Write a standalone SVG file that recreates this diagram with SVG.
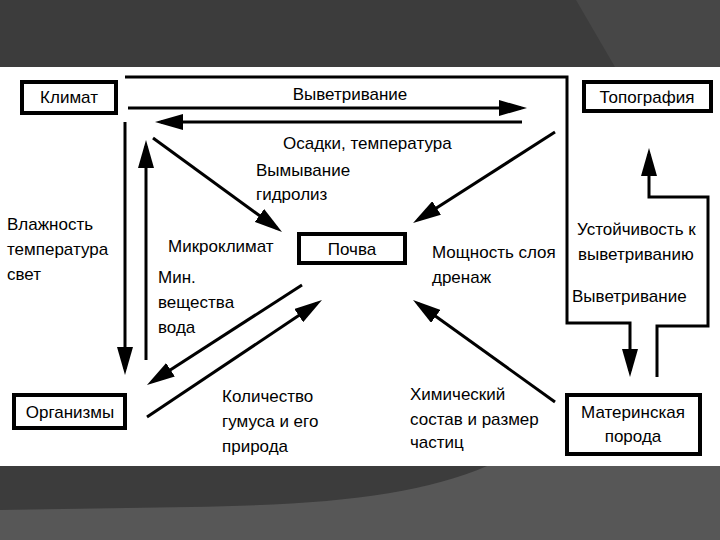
<svg xmlns="http://www.w3.org/2000/svg" width="720" height="540" viewBox="0 0 720 540">
<style>
.t{font-family:"Liberation Sans",Arial,sans-serif;font-size:17px;fill:#000}
.c{text-anchor:middle}
.box{fill:#fff;stroke:#000;stroke-width:4}
.ln{fill:none;stroke:#000;stroke-width:3;stroke-linejoin:miter}
.ar{fill:none;stroke:#000;stroke-width:3;marker-end:url(#ah)}
</style>
<defs>
<marker id="ah" viewBox="0 0 28 16" refX="22" refY="8" markerWidth="28" markerHeight="16" markerUnits="userSpaceOnUse" orient="auto">
<path d="M0,0 L28,8 L0,16 Z" fill="#000"/>
</marker>
</defs>
<g id="background">
<rect x="0" y="0" width="720" height="540" fill="#fff"/>
<rect x="0" y="0" width="720" height="67" fill="#3c3c3c"/>
<polygon points="576,0 615,67 720,67 720,0" fill="#474747"/>
<rect x="0" y="466" width="720" height="74" fill="#3c3c3c"/>
<path d="M487,466 C420,495 330,505 190,507 L0,510 L0,540 L720,540 L720,466 Z" fill="#575757"/>
</g>
<g id="connectors">
<path class="ln" d="M125,77 H567 V323 H630 V371" marker-end="url(#ah)"/>
<path class="ln" d="M657,377 V326 H708 V197 H649 V154" marker-end="url(#ah)"/>
<line class="ar" x1="128" y1="108" x2="521" y2="108"/>
<line class="ar" x1="522" y1="122" x2="161" y2="122"/>
<line class="ar" x1="125" y1="122" x2="125" y2="369"/>
<line class="ar" x1="146" y1="360" x2="146" y2="146"/>
<line class="ar" x1="153" y1="138" x2="277.2" y2="228.5"/>
<line class="ar" x1="555" y1="132" x2="418.1" y2="219.8"/>
<line class="ar" x1="302" y1="285" x2="152" y2="381.7"/>
<line class="ar" x1="147" y1="417" x2="317" y2="303.3"/>
<line class="ar" x1="555" y1="402" x2="417.9" y2="303.5"/>
</g>
<g id="klimat">
<rect class="box" x="22" y="82" width="94" height="31"/>
<text class="t c" x="69" y="103">Климат</text>
</g>
<g id="topografiya">
<rect class="box" x="584" y="82" width="127" height="29"/>
<text class="t c" x="647" y="103">Топография</text>
</g>
<g id="pochva">
<rect class="box" x="299" y="234" width="106" height="29"/>
<text class="t c" x="352" y="255">Почва</text>
</g>
<g id="organizmy">
<rect class="box" x="14" y="395" width="111" height="33"/>
<text class="t c" x="70" y="418">Организмы</text>
</g>
<g id="materinskaya">
<rect class="box" x="567" y="395" width="133" height="59"/>
<text class="t c" x="633" y="418">Материнская</text>
<text class="t c" x="633" y="442">порода</text>
</g>
<g id="labels">
<text class="t c" x="350" y="100">Выветривание</text>
<text class="t" x="283" y="149">Осадки, температура</text>
<text class="t" x="256" y="176">Вымывание</text>
<text class="t" x="256" y="200">гидролиз</text>
<text class="t" x="168" y="252">Микроклимат</text>
<text class="t" x="7" y="230">Влажность</text>
<text class="t" x="7" y="255">температура</text>
<text class="t" x="7" y="280">свет</text>
<text class="t" x="158" y="283">Мин.</text>
<text class="t" x="158" y="308">вещества</text>
<text class="t" x="158" y="333">вода</text>
<text class="t" x="432" y="258">Мощность слоя</text>
<text class="t" x="432" y="283">дренаж</text>
<text class="t" x="577" y="235">Устойчивость к</text>
<text class="t" x="578" y="260">выветриванию</text>
<text class="t" x="572" y="302">Выветривание</text>
<text class="t" x="222" y="402">Количество</text>
<text class="t" x="222" y="427">гумуса и его</text>
<text class="t" x="222" y="452">природа</text>
<text class="t" x="410" y="400">Химический</text>
<text class="t" x="410" y="425">состав и размер</text>
<text class="t" x="410" y="448">частиц</text>
</g>
</svg>
